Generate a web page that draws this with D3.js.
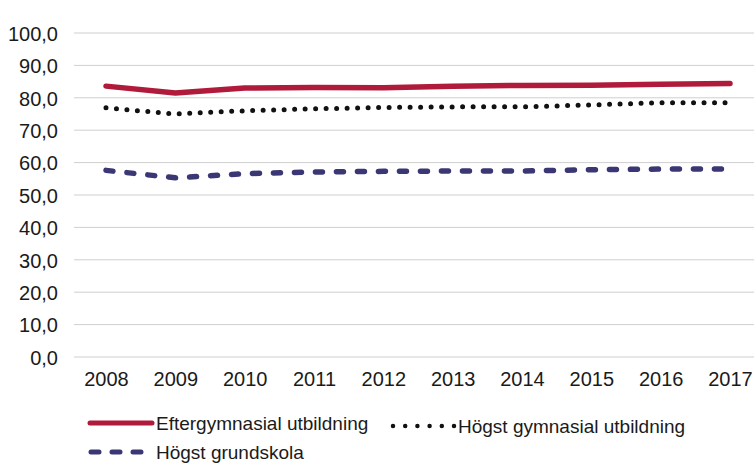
<!DOCTYPE html>
<html>
<head>
<meta charset="utf-8">
<script src="https://cdn.jsdelivr.net/npm/d3@7"></script>
<style>
  body { margin: 0; background: #fff; }
  text { font-family: "Liberation Sans", Arial, sans-serif; fill: #1a1a1a; }
</style>
</head>
<body>
<svg id="chart"></svg>
<script>
const WIDTH = 754;
const HEIGHT = 466;

// data (values relative to the gridlines)
const years = [2008, 2009, 2010, 2011, 2012, 2013, 2014, 2015, 2016, 2017];
const eftergymnasial = [83.6, 81.5, 83.0, 83.2, 83.1, 83.6, 83.8, 83.9, 84.2, 84.4];
const gymnasial = [76.9, 75.0, 76.0, 76.6, 77.0, 77.2, 77.2, 77.8, 78.5, 78.5];
const grundskola = [57.6, 55.3, 56.6, 57.1, 57.3, 57.4, 57.4, 57.8, 58.0, 58.0];
const yTicks = [0, 10, 20, 30, 40, 50, 60, 70, 80, 90, 100];

const seriesNames = ["Eftergymnasial utbildning", "Högst gymnasial utbildning", "Högst grundskola"];

window.onload = function(){
    makeChart();
};

function makeChart(){
    let svg = d3.select('#chart')
        .attr('width', WIDTH)
        .attr('height', HEIGHT);

    const x = d3.scalePoint()
        .domain(years)
        .range([106, 730]);

    const y = d3.scaleLinear()
        .domain([0, 100])
        .range([357, 33]);

    // gridlines
    svg.append('g')
        .selectAll('line')
        .data(yTicks)
        .enter()
        .append('line')
        .attr('x1', 74)
        .attr('x2', WIDTH)
        .attr('y1', d => y(d))
        .attr('y2', d => y(d))
        .style('stroke', '#cfcfcf')
        .style('stroke-width', 1);

    // y axis labels
    const yAxis = d3.axisLeft(y)
        .tickValues(yTicks)
        .tickSize(0)
        .tickPadding(0)
        .tickFormat(d => d.toFixed(1).replace('.', ','));
    let gy = svg.append('g')
        .attr('transform', 'translate(58,0)')
        .call(yAxis);
    gy.select('.domain').remove();
    gy.selectAll('text')
        .style('font-size', '20px')
        .attr('dy', '0.36em');

    // x axis labels
    const xAxis = d3.axisBottom(x)
        .tickSize(0)
        .tickPadding(0);
    let gx = svg.append('g')
        .attr('transform', 'translate(0,372)')
        .call(xAxis);
    gx.select('.domain').remove();
    gx.selectAll('text')
        .style('font-size', '20px');

    const line = d3.line()
        .x((d, i) => x(years[i]))
        .y(d => y(d));

    const styles = [
        {data: eftergymnasial, color: '#b11b3b', width: 5.5, dash: null},
        {data: gymnasial, color: '#111111', width: 5, dash: '0,10.5'},
        {data: grundskola, color: '#3b3775', width: 5.5, dash: '7,14'}
    ];

    styles.forEach(s => {
        svg.append('path')
            .datum(s.data)
            .attr('d', line)
            .style('fill', 'none')
            .style('stroke', s.color)
            .style('stroke-width', s.width)
            .style('stroke-linecap', 'round')
            .style('stroke-linejoin', 'round')
            .style('stroke-dasharray', s.dash);
    });

    // legend
    const legendPos = [
        {x1: 90, x2: 152, ty: 423, tx: 156},
        {x1: 393, x2: 454, ty: 426, tx: 458},
        {x1: 91, x2: 152, ty: 452, tx: 156}
    ];
    let legend = svg.append('g');
    styles.forEach((s, i) => {
        const p = legendPos[i];
        legend.append('line')
            .attr('x1', p.x1)
            .attr('x2', p.x2)
            .attr('y1', p.ty)
            .attr('y2', p.ty)
            .style('stroke', s.color)
            .style('stroke-width', i == 1 ? 4.5 : 5)
            .style('stroke-linecap', 'round')
            .style('stroke-dasharray', i == 1 ? '0,12.2' : (i == 2 ? '8,13' : null));
        legend.append('text')
            .attr('x', p.tx)
            .attr('y', p.ty)
            .attr('dy', '0.35em')
            .style('font-size', '19px')
            .text(seriesNames[i]);
    });
}
</script>
</body>
</html>
